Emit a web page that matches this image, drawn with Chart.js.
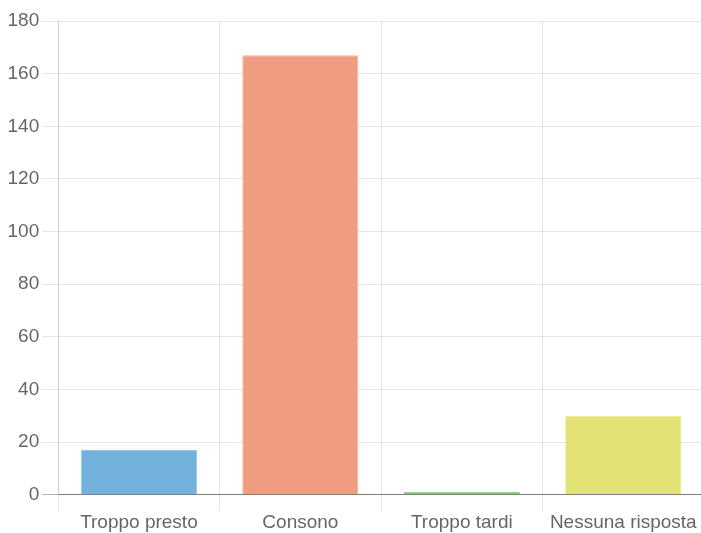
<!DOCTYPE html>
<html>
<head>
<meta charset="utf-8">
<script src="https://cdn.jsdelivr.net/npm/chart.js@4/dist/chart.umd.min.js"></script>
<style>
  html, body { margin: 0; padding: 0; background: #fff; overflow: hidden; width: 701px; height: 533px; }
  #wrap { width: 704px; height: 533px; position: relative; }
</style>
</head>
<body>
<div id="wrap"><canvas id="c"></canvas></div>
<script>
const categories = ["Troppo presto", "Consono", "Troppo tardi", "Nessuna risposta"];
const values = [17, 167, 1, 30];
const fillColors = ["rgb(114,178,221)", "rgb(239,156,128)", "rgb(124,207,112)", "rgb(226,225,116)"];
const borderColors = ["rgba(150,198,230,1)", "rgba(244,180,158,1)", "rgba(140,215,128,1)", "rgba(233,232,150,1)"];
const yMax = 180;
const yStep = 20;

Chart.defaults.font.family = "'Liberation Sans', Arial, sans-serif";
Chart.defaults.font.size = 19;
Chart.defaults.color = "#666";

new Chart(document.getElementById("c"), {
  type: "bar",
  data: {
    labels: categories,
    datasets: [{
      data: values,
      backgroundColor: fillColors,
      borderColor: borderColors,
      borderWidth: 1,
      categoryPercentage: 0.8,
      barPercentage: 0.9
    }]
  },
  options: {
    responsive: true,
    maintainAspectRatio: false,
    animation: false,
    layout: { padding: { left: 4.5, top: 21, right: 0, bottom: -1.5 } },
    plugins: { legend: { display: false }, tooltip: { enabled: false } },
    scales: {
      x: {
        grid: {
          offset: true,
          color: "rgba(0,0,0,0.1)",
          tickLength: 17
        },
        border: { color: "rgba(0,0,0,0.3)" },
        ticks: { padding: 0, maxRotation: 0 }
      },
      y: {
        min: 0,
        max: yMax,
        ticks: { stepSize: yStep, padding: 3 },
        grid: {
          tickLength: 16,
          color: (ctx) => (ctx.tick && ctx.tick.value === 0) ? "rgba(0,0,0,0.3)" : "rgba(0,0,0,0.1)"
        },
        border: { color: "rgba(0,0,0,0.1)" }
      }
    }
  }
});
</script>
</body>
</html>
